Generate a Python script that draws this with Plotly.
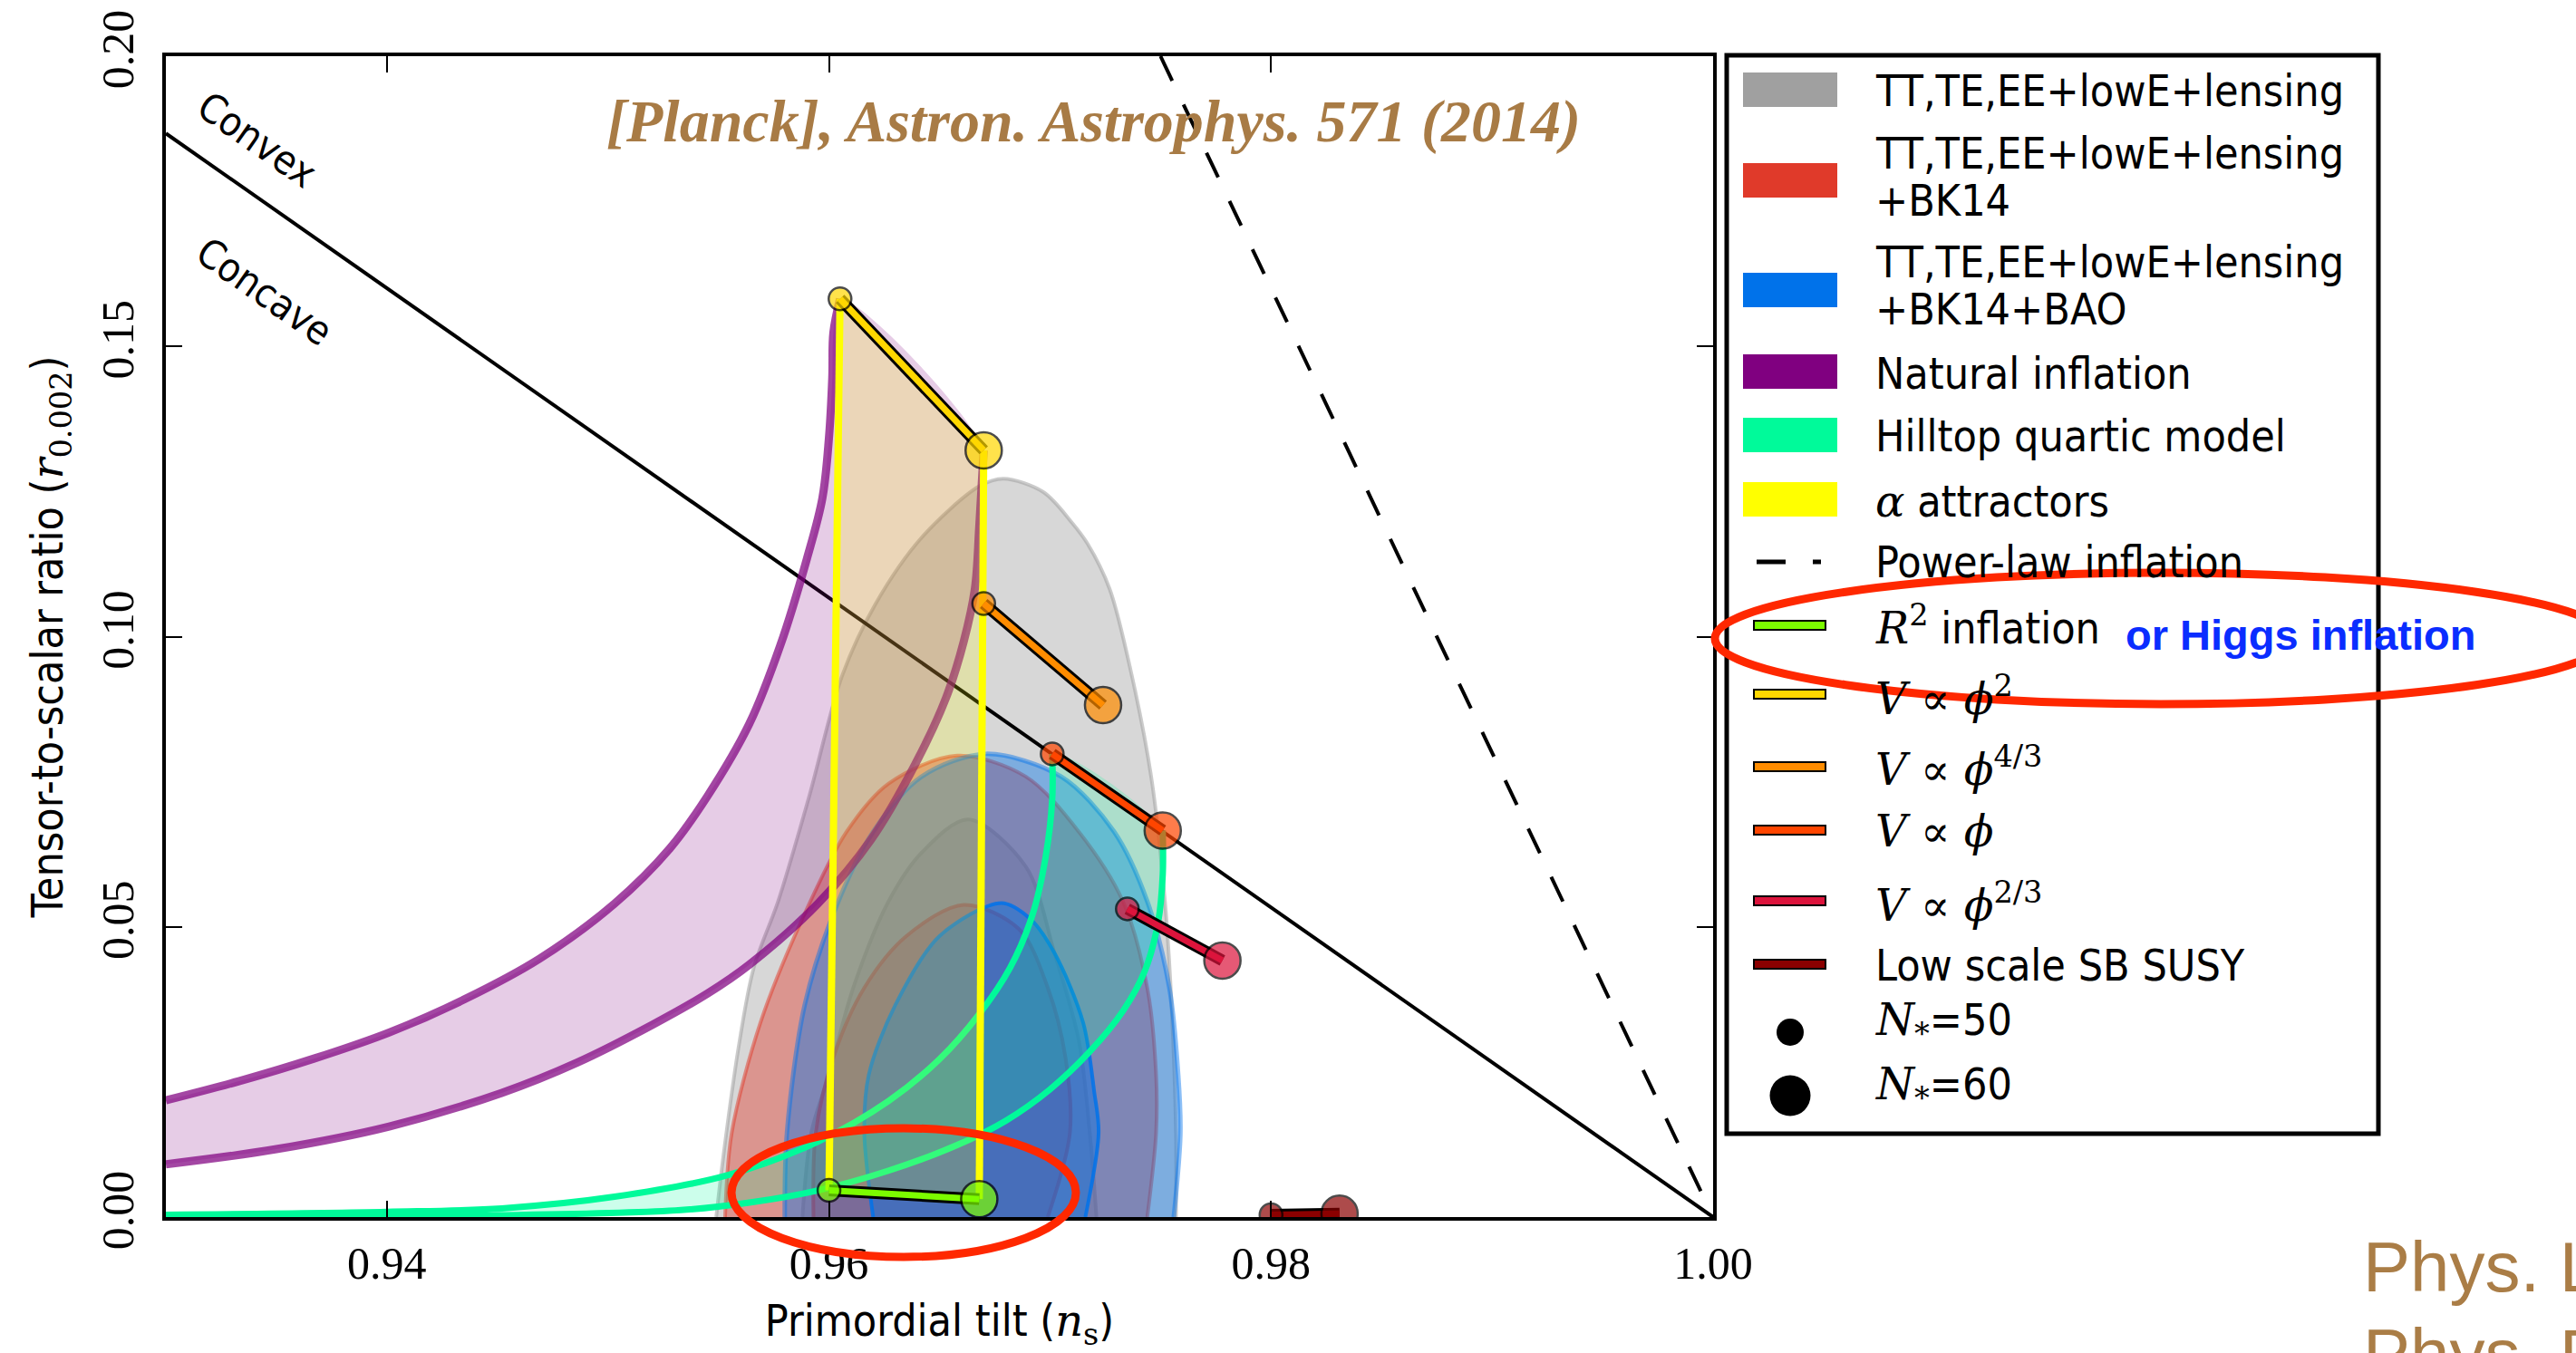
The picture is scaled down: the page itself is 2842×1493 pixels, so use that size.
import plotly.graph_objects as go

# ---------------- data ----------------
x_ticks = [0.94, 0.96, 0.98, 1.00]
y_ticks = [0.00, 0.05, 0.10, 0.15, 0.20]

# Planck contours (ns, r) - closed on r = 0
gray_outer_ns = [0.9549, 0.9552, 0.9559, 0.9566, 0.9577, 0.9591, 0.9606, 0.9621, 0.9642, 0.9668, 0.9679,
                 0.9697, 0.9710, 0.9717, 0.9727, 0.9737, 0.9746, 0.9752, 0.9755, 0.9757, 0.9757]
gray_outer_r = [0.0, 0.0098, 0.0290, 0.0430, 0.0544, 0.0724, 0.0933, 0.1056, 0.1171, 0.1259, 0.1272,
                0.1249, 0.1196, 0.1160, 0.1082, 0.0933, 0.0753, 0.0544, 0.0365, 0.0145, 0.0]
gray_inner_ns = [0.9588, 0.9592, 0.9600, 0.9611, 0.9627, 0.9642, 0.9663, 0.9689, 0.9702, 0.9713, 0.9718, 0.9721]
gray_inner_r = [0.0, 0.0145, 0.0245, 0.0395, 0.0544, 0.0628, 0.0685, 0.0604, 0.0455, 0.0305, 0.0145, 0.0]

red_outer_ns = [0.9553, 0.9556, 0.9569, 0.9588, 0.9608, 0.9627, 0.9658, 0.9689, 0.9713, 0.9733, 0.9744,
                0.9748, 0.9748, 0.9744]
red_outer_r = [0.0, 0.0145, 0.0335, 0.0514, 0.0664, 0.0747, 0.0795, 0.0759, 0.0664, 0.0544, 0.0395,
               0.0245, 0.0145, 0.0]
red_inner_ns = [0.9593, 0.9594, 0.9602, 0.9616, 0.9635, 0.9661, 0.9686, 0.9699, 0.9707, 0.9709, 0.9699]
red_inner_r = [0.0, 0.0145, 0.0275, 0.0395, 0.0484, 0.0538, 0.0496, 0.0395, 0.0275, 0.0145, 0.0]

blue_outer_ns = [0.9580, 0.9581, 0.9589, 0.9603, 0.9620, 0.9642, 0.9671, 0.9705, 0.9729, 0.9744, 0.9754,
                 0.9758, 0.9759, 0.9756]
blue_outer_r = [0.0, 0.0145, 0.0365, 0.0532, 0.0664, 0.0759, 0.0798, 0.0759, 0.0664, 0.0544, 0.0395,
                0.0245, 0.0145, 0.0]
blue_inner_ns = [0.9620, 0.9616, 0.9618, 0.9630, 0.9650, 0.9678, 0.9691, 0.9702, 0.9715, 0.9720, 0.9722, 0.9716]
blue_inner_r = [0.0, 0.0145, 0.0245, 0.0365, 0.0484, 0.0541, 0.0514, 0.0455, 0.0335, 0.0216, 0.0145, 0.0]

# Natural inflation band
nat_upper_ns = [0.9300, 0.9333, 0.9367, 0.9401, 0.9435, 0.9469, 0.9503, 0.9528, 0.9545, 0.9564,
                0.9578, 0.9590, 0.9597, 0.9600, 0.96015, 0.9602, 0.9605]
nat_upper_r = [0.0201, 0.0234, 0.0273, 0.0318, 0.0375, 0.0445, 0.0540, 0.0635, 0.0725, 0.0850,
               0.0985, 0.1134, 0.1238, 0.1343, 0.1446, 0.1524, 0.1582]
nat_lower_ns = [0.9300, 0.9350, 0.9401, 0.9452, 0.9486, 0.9520, 0.9545, 0.9564, 0.9595, 0.9619,
                0.9639, 0.9653, 0.9661, 0.9666, 0.9668, 0.9670]
nat_lower_r = [0.0091, 0.0117, 0.0156, 0.0214, 0.0266, 0.0331, 0.0385, 0.0435, 0.0540, 0.0650,
               0.0780, 0.0895, 0.0992, 0.1082, 0.1190, 0.1321]

# Hilltop quartic model
hill_upper_ns = [0.9300, 0.9400, 0.9452, 0.9503, 0.9554, 0.9595, 0.9627, 0.9650, 0.9668, 0.9682,
                 0.9692, 0.9698, 0.9701, 0.9701]
hill_upper_r = [0.0004, 0.0009, 0.0015, 0.0035, 0.0072, 0.0130, 0.0200, 0.0272, 0.0350, 0.0430,
                0.0520, 0.0620, 0.0720, 0.0798]
hill_lower_ns = [0.9300, 0.9450, 0.9533, 0.9564, 0.9595, 0.9627, 0.9658, 0.9680, 0.9700, 0.9718,
                 0.9733, 0.9743, 0.9749, 0.9751, 0.9751]
hill_lower_r = [0.0, 0.0003, 0.0012, 0.0025, 0.0046, 0.0080, 0.0124, 0.0166, 0.0220, 0.0285,
                0.0355, 0.0425, 0.0510, 0.0590, 0.0666]

# Power-law models: [N*=50, N*=60]
phi2_ns, phi2_r = [0.9605, 0.9670], [0.1582, 0.1321]
phi43_ns, phi43_r = [0.9670, 0.9724], [0.1057, 0.0882]
phi1_ns, phi1_r = [0.9701, 0.9751], [0.0798, 0.0666]
phi23_ns, phi23_r = [0.9735, 0.9778], [0.0531, 0.0442]
r2_ns, r2_r = [0.9600, 0.9668], [0.0046, 0.0031]
susy_ns, susy_r = [0.9800, 0.9831], [0.0004, 0.0006]

# Convex/concave boundary and power-law inflation
cc_ns, cc_r = [0.93, 1.00], [0.1867, 0.0]
pl_ns, pl_r = [0.975, 1.00], [0.20, 0.0]

legend_labels = ["TT,TE,EE+lowE+lensing", "TT,TE,EE+lowE+lensing", "+BK14",
                 "TT,TE,EE+lowE+lensing", "+BK14+BAO", "Natural inflation", "Hilltop quartic model"]

# ---------------- styling ----------------
W, H = 2842, 1493
PL, PR, PT, PB = 183, 1890, 62, 1343
SANS = "DejaVu Sans Condensed, DejaVu Sans"
SERIF = "Liberation Serif"


def m(s):
    return "<span style='font-family:DejaVu Serif'>" + s + "</span>"


def px(v):
    return (v - PL) / (PR - PL)


def py(v):
    return (PB - v) / (PB - PT)


fig = go.Figure()


def area(xs, ys, fill, lc, lw, shape="spline"):
    fig.add_trace(go.Scatter(x=xs, y=ys, mode="lines", fill="toself", fillcolor=fill,
                             line=dict(color=lc, width=lw, shape=shape, smoothing=0.9),
                             hoverinfo="skip", showlegend=False))


def curve(xs, ys, color, lw, dash=None, shape="spline"):
    fig.add_trace(go.Scatter(x=xs, y=ys, mode="lines",
                             line=dict(color=color, width=lw, dash=dash, shape=shape, smoothing=1.0),
                             hoverinfo="skip", showlegend=False))


GRAY, RED, BLUE = "160,160,160", "224,58,42", "0,114,234"
A = 0.42
area(gray_outer_ns, gray_outer_r, f"rgba({GRAY},{A})", f"rgba({GRAY},0.55)", 4)
area(gray_inner_ns, gray_inner_r, f"rgba({GRAY},{A})", f"rgba({GRAY},0.8)", 4)
area(red_outer_ns, red_outer_r, f"rgba({RED},{A})", f"rgba({RED},0.5)", 4)
area(red_inner_ns, red_inner_r, f"rgba({RED},{A})", f"rgba({RED},0.8)", 4)
area(blue_outer_ns, blue_outer_r, f"rgba({BLUE},{A})", f"rgba({BLUE},0.45)", 5)
area(blue_inner_ns, blue_inner_r, f"rgba({BLUE},{A})", f"rgba({BLUE},0.85)", 4)

# reference lines
curve(cc_ns, cc_r, "black", 4, shape="linear")
curve(pl_ns, pl_r, "black", 4, dash="30px,29px", shape="linear")

# Natural inflation band
area(nat_upper_ns + nat_lower_ns[::-1], nat_upper_r + nat_lower_r[::-1], "rgba(128,0,128,0.2)",
     "rgba(0,0,0,0)", 0)
curve(nat_upper_ns, nat_upper_r, "rgba(128,0,128,0.72)", 9)
curve(nat_lower_ns, nat_lower_r, "rgba(128,0,128,0.72)", 9)

# Hilltop
area(hill_upper_ns + hill_lower_ns[::-1], hill_upper_r + hill_lower_r[::-1], "rgba(0,250,154,0.2)",
     "rgba(0,0,0,0)", 0)
curve(hill_upper_ns, hill_upper_r, "#00fa9a", 7)
curve(hill_lower_ns, hill_lower_r, "#00fa9a", 7)

# alpha attractors
area([phi2_ns[0], phi2_ns[1], r2_ns[1], r2_ns[0]], [phi2_r[0], phi2_r[1], r2_r[1], r2_r[0]],
     "rgba(255,255,0,0.2)", "rgba(0,0,0,0)", 0, shape="linear")
curve([phi2_ns[0], r2_ns[0]], [phi2_r[0], r2_r[0]], "#ffff00", 8, shape="linear")
curve([phi2_ns[1], r2_ns[1]], [phi2_r[1], r2_r[1]], "#ffff00", 8, shape="linear")


def model(xs, ys, color):
    curve(xs, ys, "black", 13, shape="linear")
    curve(xs, ys, color, 7, shape="linear")
    fig.add_trace(go.Scatter(x=xs, y=ys, mode="markers",
                             marker=dict(size=[25, 40], color=color, line=dict(color="black", width=2.5)),
                             hoverinfo="skip", showlegend=False))


model(r2_ns, r2_r, "#7cfc00")
model(phi2_ns, phi2_r, "#ffd700")
model(phi43_ns, phi43_r, "#ff8c00")
model(phi1_ns, phi1_r, "#ff4500")
model(phi23_ns, phi23_r, "#dc143c")
model(susy_ns, susy_r, "#8b0000")

# ---------------- legend (drawn by hand) ----------------
shapes = []
anns = []
shapes.append(dict(type="rect", xref="paper", yref="paper", x0=px(1905), x1=px(2624), y0=py(61), y1=py(1251),
                   line=dict(color="black", width=5), fillcolor="white", layer="above"))

patch_entries = [("#a0a0a0", 99), ("#e03a2a", 199), ("#0072ea", 320), ("#800080", 410),
                 ("#00fa9a", 480), ("#ffff00", 551)]
for col, yc in patch_entries:
    shapes.append(dict(type="rect", xref="paper", yref="paper", x0=px(1923), x1=px(2027),
                       y0=py(yc - 19), y1=py(yc + 19), line=dict(width=0), fillcolor=col, layer="above"))

# dashed power-law symbol
for xa, xb in [(1938, 1970), (2000, 2009)]:
    shapes.append(dict(type="line", xref="paper", yref="paper", x0=px(xa), x1=px(xb), y0=py(620), y1=py(620),
                       line=dict(color="black", width=5), layer="above"))

line_entries = [("#7cfc00", 690), ("#ffd700", 766), ("#ff8c00", 846), ("#ff4500", 916),
                ("#dc143c", 994), ("#8b0000", 1064)]
for col, yc in line_entries:
    shapes.append(dict(type="rect", xref="paper", yref="paper", x0=px(1935), x1=px(2014),
                       y0=py(yc - 5), y1=py(yc + 5), line=dict(color="black", width=2), fillcolor=col,
                       layer="above"))

for yc, d in [(1139, 30), (1209, 45)]:
    shapes.append(dict(type="circle", xref="paper", yref="paper", x0=px(1975 - d / 2), x1=px(1975 + d / 2),
                       y0=py(yc - d / 2), y1=py(yc + d / 2), line=dict(width=0), fillcolor="black",
                       layer="above"))

text_entries = [(legend_labels[0], 100), (legend_labels[1], 169), (legend_labels[2], 221),
                (legend_labels[3], 289), (legend_labels[4], 341), (legend_labels[5], 412),
                (legend_labels[6], 481),
                (m("<i>α</i>") + " attractors", 553),
                ("Power-law inflation", 620),
                (m("<i>R</i><sup>2</sup>") + " inflation", 690),
                (m("<i>V</i> ∝ <i>ϕ</i><sup>2</sup>"), 768),
                (m("<i>V</i> ∝ <i>ϕ</i><sup>4/3</sup>"), 846),
                (m("<i>V</i> ∝ <i>ϕ</i>"), 917),
                (m("<i>V</i> ∝ <i>ϕ</i><sup>2/3</sup>"), 996),
                ("Low scale SB SUSY", 1065),
                (m("<i>N</i><sub>*</sub>") + "=50", 1128),
                (m("<i>N</i><sub>*</sub>") + "=60", 1199)]
for txt, yc in text_entries:
    anns.append(dict(xref="paper", yref="paper", x=px(2067), y=py(yc), text=txt, showarrow=False,
                     xanchor="left", yanchor="middle", font=dict(family=SANS, size=48, color="black")))

# ---------------- other annotations ----------------
anns.append(dict(xref="paper", yref="paper", x=px(1206), y=py(134),
                 text="<b><i>[Planck], Astron. Astrophys. 571 (2014)</i></b>", showarrow=False,
                 xanchor="center", yanchor="middle",
                 font=dict(family="Liberation Serif", size=66, color="#a87b45")))
anns.append(dict(xref="paper", yref="paper", x=px(283), y=py(154), text="Convex", showarrow=False,
                 textangle=35, xanchor="center", yanchor="middle", font=dict(family=SANS, size=44, color="black")))
anns.append(dict(xref="paper", yref="paper", x=px(292), y=py(321), text="Concave", showarrow=False,
                 textangle=35, xanchor="center", yanchor="middle", font=dict(family=SANS, size=44, color="black")))
anns.append(dict(xref="paper", yref="paper", x=px(2538), y=py(700), text="<b>or Higgs inflation</b>",
                 showarrow=False, xanchor="center", yanchor="middle",
                 font=dict(family="Liberation Sans", size=47, color="#0a2dff")))
anns.append(dict(xref="paper", yref="paper", x=px(2605), y=py(1398), text="Phys. Lett.", showarrow=False,
                 xanchor="left", yanchor="middle", font=dict(family="Liberation Sans", size=78, color="#aa7d46")))
anns.append(dict(xref="paper", yref="paper", x=px(2605), y=py(1494), text="Phys. Rev.", showarrow=False,
                 xanchor="left", yanchor="middle", font=dict(family="Liberation Sans", size=78, color="#aa7d46")))

# red highlight ellipses
shapes.append(dict(type="circle", xref="paper", yref="paper", x0=px(1892), x1=px(2876), y0=py(632), y1=py(777),
                   line=dict(color="rgb(255,40,0)", width=9), layer="above"))
shapes.append(dict(type="circle", xref="paper", yref="paper", x0=px(807), x1=px(1187), y0=py(1245), y1=py(1387),
                   line=dict(color="rgb(255,40,0)", width=9), layer="above"))

axis_common = dict(showline=True, linewidth=4, linecolor="black", mirror="ticks", ticks="inside",
                   ticklen=18, tickwidth=2, tickcolor="black", showgrid=False, zeroline=False,
                   tickfont=dict(family=SERIF, size=50, color="black"), tickformat=".2f")

fig.update_layout(
    width=W, height=H, margin=dict(l=PL, r=W - PR, t=PT, b=H - PB, autoexpand=False),
    paper_bgcolor="white", plot_bgcolor="white", showlegend=False,
    xaxis=dict(range=[0.93, 1.0], tickvals=x_ticks, automargin=False, ticklabelstandoff=4,
               title=dict(text="Primordial tilt (" + m("<i>n</i><sub>s</sub>") + ")", standoff=20,
                          font=dict(family=SANS, size=48, color="black")),
               **axis_common),
    yaxis=dict(range=[0.0, 0.2], tickvals=y_ticks, tickangle=-90, automargin=False, ticklabelstandoff=12,
               title=dict(text="Tensor-to-scalar ratio (" + m("<i>r</i><sub>0.002</sub>") + ")", standoff=18,
                          font=dict(family=SANS, size=48, color="black")),
               **axis_common),
    shapes=shapes, annotations=anns,
)

fig.write_html("out.html")
